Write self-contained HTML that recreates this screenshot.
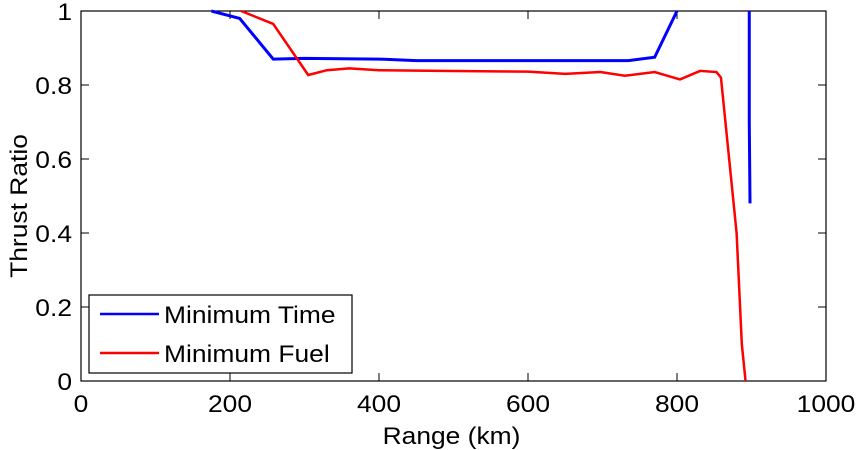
<!DOCTYPE html>
<html><head><meta charset="utf-8"><style>
body{margin:0;background:#fff;}
svg{display:block;font-family:"Liberation Sans",Arial,sans-serif;}
</style></head><body>
<svg id="chart" width="857" height="450">
<g id="axes"></g><g id="series"></g>
</svg>
<script>
const xTicks=[0,200,400,600,800,1000];
const yTicks=[0,0.2,0.4,0.6,0.8,1];
const yTickLabels=["0","0.2","0.4","0.6","0.8","1"];
const timeX=[175,213,258,300,400,450,550,650,735,770,800];
const timeY=[1,0.98,0.87,0.872,0.87,0.866,0.866,0.866,0.866,0.875,1];
const timeSpikeX=[897,897,898];
const timeSpikeY=[1,0.7,0.48];
const fuelX=[215,258,305,330,360,400,500,600,650,697,730,770,804,831,853,859,870,880,887,892];
const fuelY=[1,0.965,0.827,0.84,0.845,0.84,0.838,0.836,0.83,0.835,0.825,0.835,0.815,0.838,0.835,0.82,0.6,0.4,0.1,0];
const seriesNames=["Minimum Time","Minimum Fuel"];

const L=81,R=826,T=11,B=381;
const SX=1.1, FS=24;
const sx=v=>L+(v-0)/1000*(R-L);
const sy=v=>B-(v-0)/1*(B-T);
const NS="http://www.w3.org/2000/svg";
function mk(tag,attrs,parent){const e=document.createElementNS(NS,tag);for(const k in attrs)e.setAttribute(k,attrs[k]);parent.appendChild(e);return e;}
function txt(x,y,anchor,size,s,parent,rot){
  const tr=`translate(${x},${y})`+(rot?' rotate(-90)':'')+` scale(${SX},1)`;
  const t=mk('text',{x:0,y:0,'text-anchor':anchor,'font-size':size,transform:tr},parent);
  t.textContent=s;return t;
}
const ax=document.getElementById('axes'),se=document.getElementById('series');
const frame=mk('rect',{x:L,y:T,width:R-L,height:B-T,fill:'#fff',stroke:'#000','stroke-width':1.2},ax);


xTicks.forEach(v=>{
  const x=sx(v);
  const t1=mk('line',{x1:x,x2:x,y1:B,y2:B-8,stroke:'#000'},ax);
  
  
  const t2=mk('line',{x1:x,x2:x,y1:T,y2:T+8,stroke:'#000'},ax);
  
  
  const tx=txt(x,412,'middle',FS,String(v),ax);
  
  
});
yTicks.forEach((v,i)=>{
  const y=sy(v);
  const t1=mk('line',{x1:L,x2:L+8,y1:y,y2:y,stroke:'#000'},ax);
  
  
  const t2=mk('line',{x1:R,x2:R-8,y1:y,y2:y,stroke:'#000'},ax);
  
  
  const tx=txt(L-9,y+9,'end',FS,yTickLabels[i],ax);
  
  
});
const xl=txt((L+R)/2-2,444,'middle',FS,'Range (km)',ax);


const yl=txt(27,(T+B)/2+10,'middle',FS,'Thrust Ratio',ax,true);


const pts=(xs,ys)=>xs.map((x,i)=>sx(x)+','+sy(ys[i])).join(' ');
const p1=mk('polyline',{points:pts(timeX,timeY),fill:'none',stroke:'#0000ff','stroke-width':3},se);


const p1b=mk('polyline',{points:pts(timeSpikeX,timeSpikeY),fill:'none',stroke:'#0000ff','stroke-width':3},se);


const p2=mk('polyline',{points:pts(fuelX,fuelY),fill:'none',stroke:'#ff0000','stroke-width':2.5},se);


const lg=mk('g',{},se);


mk('rect',{x:89,y:295,width:263,height:78,fill:'#fff',stroke:'#000','stroke-width':1.2},lg);
const cols=['#0000ff','#ff0000'];
seriesNames.forEach((n,i)=>{
  const y=314+i*39;
  const ln=mk('line',{x1:100,x2:159,y1:y,y2:y,stroke:cols[i],'stroke-width':2.5},lg);
  
  
  const t=txt(164,y+9,'start',FS,n,lg);
  
  
});
</script>
</body></html>
